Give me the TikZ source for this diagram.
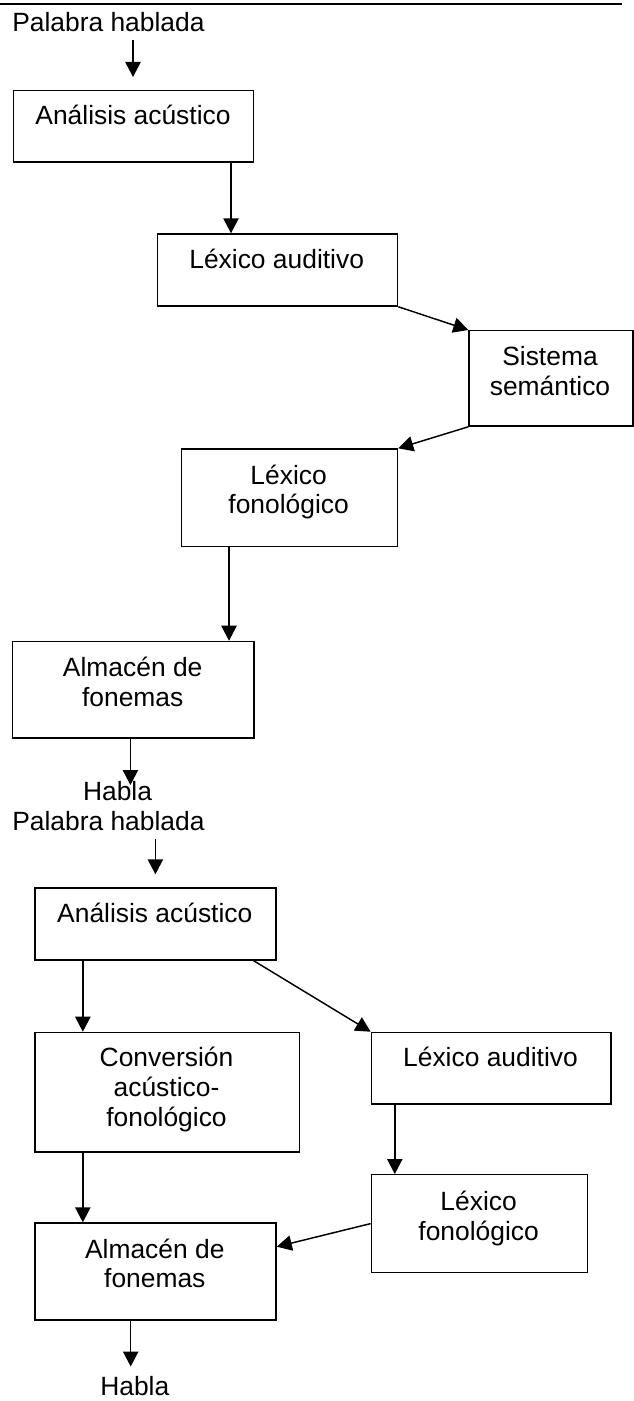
\documentclass[tikz,border=0pt]{standalone}
\usepackage{fontspec}
\setmainfont{Liberation Sans}
\usetikzlibrary{arrows.meta,calc}
\begin{document}
\begin{tikzpicture}[x=0.75pt,y=-0.75pt,
  box/.style={draw,line width=1.1pt,rectangle,inner sep=0pt,anchor=north west},
  lbl/.style={inner sep=0pt,anchor=base,font=\fontsize{19.8}{22.5}\selectfont},
  lblw/.style={lbl,anchor=base west},
  arr/.style={line width=1.1pt,-{Triangle[length=11.25pt,width=11.5pt]}}]
\useasboundingbox (0,0) rectangle (633,1401);
% top rule
\draw[line width=1.1pt] (0,4) -- (622,4);

% ---------- first diagram ----------
\node[lblw] (t0) at (12,32) {Palabra hablada};
\node[box,minimum width=180pt,minimum height=53.5pt] (b1) at (13,90) {};
\node[lbl] (t1) at (133,125) {Análisis acústico};
\node[box,minimum width=180.2pt,minimum height=54pt] (b2) at (156.6,233.3) {};
\node[lbl] (t2) at (276.7,269) {Léxico auditivo};
\node[box,minimum width=122.8pt,minimum height=71.5pt] (b3) at (468.3,330) {};
\node[lbl] (t3a) at (550,365) {Sistema};
\node[lbl] (t3b) at (550,395) {semántico};
\node[box,minimum width=162.2pt,minimum height=73.05pt] (b4) at (180.5,448.3) {};
\node[lbl] (t4a) at (288.6,484) {Léxico};
\node[lbl] (t4b) at (288.6,513) {fonológico};
\node[box,minimum width=181.1pt,minimum height=72.45pt] (b5) at (12,640.7) {};
\node[lbl] (t5a) at (132.7,676.7) {Almacén de};
\node[lbl] (t5b) at (132.7,706.7) {fonemas};
\node[lblw] (t6) at (82.8,800.7) {Habla};

\coordinate (a1s) at (133,40);
\coordinate (a1e) at (133,77);
\coordinate (h1) at (130.4,785);
\draw[arr] (a1s) -- (a1e);
\draw[arr] ([xshift=-17.6pt]b1.south east) -- ([xshift=-17.6pt]b1.south east |- b2.north);
\draw[arr] (b2.south east) -- (b3.north west);
\draw[arr] (b3.south west) -- (b4.north east);
\draw[arr] ([xshift=36.4pt]b4.south west) -- ([xshift=36.4pt]b4.south west |- b5.north);
\draw[arr] (h1 |- b5.south) -- (h1);

% ---------- second diagram ----------
\node[lblw] (t7) at (12,830) {Palabra hablada};
\node[box,minimum width=180.75pt,minimum height=54pt] (b6) at (34.3,887.3) {};
\node[lbl] (t8) at (154.8,922.7) {Análisis acústico};
\node[box,minimum width=198.3pt,minimum height=89.5pt] (b7) at (34.3,1031.7) {};
\node[lbl] (t9a) at (166.5,1066.7) {Conversión};
\node[lbl] (t9b) at (166.5,1096.7) {acústico-};
\node[lbl] (t9c) at (166.5,1126.7) {fonológico};
\node[box,minimum width=179.85pt,minimum height=53.7pt] (b8) at (370.6,1031.7) {};
\node[lbl] (t10) at (490.5,1066.7) {Léxico auditivo};
\node[box,minimum width=162pt,minimum height=73.3pt] (b9) at (370.6,1174) {};
\node[lbl] (t11a) at (478.6,1210) {Léxico};
\node[lbl] (t11b) at (478.6,1240) {fonológico};
\node[box,minimum width=180.75pt,minimum height=72.75pt] (b10) at (34.3,1222.3) {};
\node[lbl] (t12a) at (154.8,1258.3) {Almacén de};
\node[lbl] (t12b) at (154.8,1287.3) {fonemas};
\node[lblw] (t13) at (100,1395) {Habla};

\coordinate (a7s) at (155.4,839.3);
\coordinate (a7e) at (155.4,874.3);
\coordinate (h2) at (130.7,1366.5);
\draw[arr] (a7s) -- (a7e);
\draw[arr] ([xshift=36.4pt]b6.south west) -- ([xshift=36.4pt]b6.south west |- b7.north);
\draw[arr] ([xshift=-17.25pt]b6.south east) -- (b8.north west);
\draw[arr] ([xshift=18.15pt]b8.south west) -- ([xshift=18.15pt]b8.south west |- b9.north);
\draw[arr] ([xshift=36.4pt]b7.south west) -- ([xshift=36.4pt]b7.south west |- b10.north);
\draw[arr] (b9.west) -- ([yshift=-18.3pt]b10.north east);
\draw[arr] (h2 |- b10.south) -- (h2);
\end{tikzpicture}
\end{document}
